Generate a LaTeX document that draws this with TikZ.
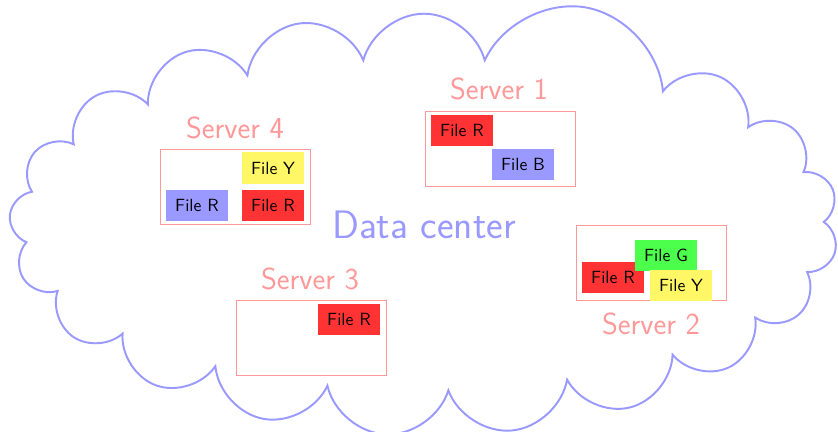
\documentclass[tikz,border=0pt]{standalone}
\usetikzlibrary{shapes.symbols}
\begin{document}
\begin{tikzpicture}[x=0.5669pt,y=-0.5669pt,
  every node/.style={font=\sffamily},
  serverbox/.style={draw=red!40, minimum width=85.04pt, minimum height=42.52pt, inner sep=0pt},
  serverlabel/.style={text=red!40, font=\sffamily\LARGE, inner sep=0pt},
  filebox/.style={minimum width=35.1pt, minimum height=17.6pt, inner sep=0pt, font=\sffamily, text=black},
  fred/.style={filebox, fill=red!80},
  fblue/.style={filebox, fill=blue!40},
  fyellow/.style={filebox, fill=yellow!60},
  fgreen/.style={filebox, fill=green!70}]
\useasboundingbox (0,0) rectangle (838,432);
\node[cloud, cloud puffs=20.6, cloud ignores aspect, draw=blue!40, line width=1.1pt,
  minimum width=470pt, minimum height=239pt, text=blue!40, font=\sffamily\fontsize{22.5}{27}\selectfont] (dc) at (424,224.5) {Data center};
% Server 4
\node[serverbox] (s4) at (235,187) {};
\node[serverlabel] (l4) at (235,128) {Server 4};
\node[fyellow] (s4y) at (273,168) {File Y};
\node[fblue] (s4b) at (197,205.5) {File R};
\node[fred] (s4r) at (273,205.5) {File R};
% Server 1
\node[serverbox] (s1) at (500,149) {};
\node[serverlabel] (l1) at (499,89) {Server 1};
\node[fred] (s1r) at (462,130.5) {File R};
\node[fblue] (s1b) at (523,164.5) {File B};
% Server 2
\node[serverbox] (s2) at (651,262.5) {};
\node[serverlabel] (l2) at (651,324) {Server 2};
\node[fred] (s2r) at (613,277.5) {File R};
\node[fgreen] (s2g) at (666,255.5) {File G};
\node[fyellow] (s2y) at (681,285.5) {File Y};
% Server 3
\node[serverbox] (s3) at (311,338) {};
\node[serverlabel] (l3) at (310,279) {Server 3};
\node[fred] (s3r) at (349,319.5) {File R};
\end{tikzpicture}
\end{document}
